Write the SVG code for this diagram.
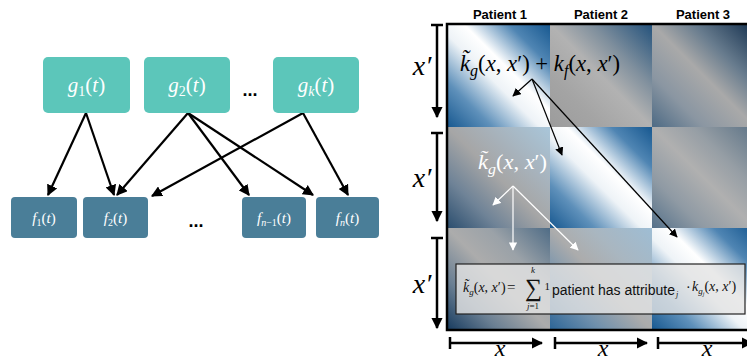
<svg xmlns="http://www.w3.org/2000/svg" width="747" height="360" viewBox="0 0 747 360">
<defs>
<style>
.g{fill:#5cc6ba}
.f{fill:#4a7e98}
.lbl{font-family:"Liberation Serif","DejaVu Serif",serif;fill:#fff}
.it{font-style:italic}
.edge{stroke:#000;stroke-width:2.2;fill:none;marker-end:url(#ah)}
.ann{stroke:#000;stroke-width:1.2;fill:none;marker-end:url(#ahs)}
.annw{stroke:#fff;stroke-width:1.2;fill:none;marker-end:url(#ahw)}
.axis{stroke:#000;stroke-width:2.5;fill:none;marker-end:url(#ahb)}
.tbar{stroke:#000;stroke-width:2.5}
.math{font-family:"Liberation Serif","DejaVu Serif",serif}
.fm{font-family:"Liberation Serif","DejaVu Serif",serif;fill:#111}
.hdr{font-family:"Liberation Sans",Arial,sans-serif;font-weight:bold;font-size:13px;fill:#000;text-anchor:middle}
</style>
<marker id="ah" viewBox="0 0 10 10" refX="9" refY="5" markerWidth="5" markerHeight="5" orient="auto" markerUnits="strokeWidth"><path d="M0,0 L10,5 L0,10 z" fill="#000"/></marker>
<marker id="ahs" viewBox="0 0 10 10" refX="9" refY="5" markerWidth="7" markerHeight="7" orient="auto" markerUnits="strokeWidth"><path d="M0,0 L10,5 L0,10 z" fill="#000"/></marker>
<marker id="ahw" viewBox="0 0 10 10" refX="9" refY="5" markerWidth="7" markerHeight="7" orient="auto" markerUnits="strokeWidth"><path d="M0,0 L10,5 L0,10 z" fill="#fff"/></marker>
<marker id="ahb" viewBox="0 0 10 10" refX="9" refY="5" markerWidth="4.5" markerHeight="4.5" orient="auto" markerUnits="strokeWidth"><path d="M0,0 L10,5 L0,10 z" fill="#000"/></marker>
<linearGradient id="gd" x1="1" y1="0" x2="0" y2="1">
<stop offset="0" stop-color="#175890"/><stop offset="0.2" stop-color="#4f85b3"/><stop offset="0.42" stop-color="#ffffff"/><stop offset="0.55" stop-color="#eef3f7"/><stop offset="0.78" stop-color="#5e90ba"/><stop offset="1" stop-color="#175890"/>
</linearGradient>
<linearGradient id="g12" x1="1" y1="0" x2="0" y2="1">
<stop offset="0" stop-color="#23527c"/><stop offset="0.3" stop-color="#7f8f9d"/><stop offset="0.5" stop-color="#b2b2b2"/><stop offset="0.75" stop-color="#a4a4a4"/><stop offset="1" stop-color="#9c9c9c"/>
</linearGradient>
<linearGradient id="g13" x1="1" y1="0" x2="0" y2="1">
<stop offset="0" stop-color="#14304e"/><stop offset="0.3" stop-color="#687c8e"/><stop offset="0.5" stop-color="#a9a9a9"/><stop offset="0.75" stop-color="#8a96a2"/><stop offset="1" stop-color="#4d6a84"/>
</linearGradient>
<linearGradient id="g21" x1="1" y1="0" x2="0" y2="1">
<stop offset="0" stop-color="#a9c6da"/><stop offset="0.3" stop-color="#a7b2bb"/><stop offset="0.5" stop-color="#a6a6a6"/><stop offset="0.75" stop-color="#6f8397"/><stop offset="1" stop-color="#2a4d6e"/>
</linearGradient>
<linearGradient id="g23" x1="1" y1="0" x2="0" y2="1">
<stop offset="0" stop-color="#5e7487"/><stop offset="0.3" stop-color="#969ea5"/><stop offset="0.5" stop-color="#b0b0b0"/><stop offset="0.75" stop-color="#8f9aa4"/><stop offset="1" stop-color="#55718a"/>
</linearGradient>
<linearGradient id="g31" x1="1" y1="0" x2="0" y2="1">
<stop offset="0" stop-color="#4f6c86"/><stop offset="0.3" stop-color="#9ba2a8"/><stop offset="0.5" stop-color="#acacac"/><stop offset="0.75" stop-color="#6a7f93"/><stop offset="1" stop-color="#163a5e"/>
</linearGradient>
<linearGradient id="g32" x1="1" y1="0" x2="0" y2="1">
<stop offset="0" stop-color="#9ebdd4"/><stop offset="0.3" stop-color="#a9b6c0"/><stop offset="0.5" stop-color="#acacac"/><stop offset="0.75" stop-color="#6f90ad"/><stop offset="1" stop-color="#2c6597"/>
</linearGradient>
</defs>
<rect width="747" height="360" fill="#fff"/>

<g id="connectors">
<line class="edge" x1="86" y1="113" x2="48" y2="195"/>
<line class="edge" x1="86" y1="113" x2="114" y2="195"/>
<line class="edge" x1="188" y1="113" x2="117" y2="195"/>
<line class="edge" x1="188" y1="113" x2="249" y2="195"/>
<line class="edge" x1="188" y1="113" x2="313" y2="195"/>
<line class="edge" x1="303" y1="113" x2="152" y2="196"/>
<line class="edge" x1="303" y1="113" x2="348" y2="195"/>
</g>

<g id="g1"><rect class="g" x="43" y="57" width="87" height="56" rx="5"/>
<text class="lbl" x="86.5" y="92" font-size="21" text-anchor="middle"><tspan class="it">g</tspan><tspan font-size="14" dy="4">1</tspan><tspan dy="-4">(</tspan><tspan class="it">t</tspan>)</text></g>
<g id="g2"><rect class="g" x="144" y="57" width="86" height="56" rx="5"/>
<text class="lbl" x="187" y="92" font-size="21" text-anchor="middle"><tspan class="it">g</tspan><tspan font-size="14" dy="4">2</tspan><tspan dy="-4">(</tspan><tspan class="it">t</tspan>)</text></g>
<g id="gdots"><text x="250" y="96" font-family="Liberation Sans,Arial,sans-serif" font-weight="bold" font-size="18" text-anchor="middle">...</text></g>
<g id="gk"><rect class="g" x="273" y="57" width="86" height="56" rx="5"/>
<text class="lbl" x="316" y="92" font-size="21" text-anchor="middle"><tspan class="it">g</tspan><tspan class="it" font-size="14" dy="4">k</tspan><tspan dy="-4">(</tspan><tspan class="it">t</tspan>)</text></g>

<g id="f1"><rect class="f" x="11" y="197" width="66" height="41" rx="4"/>
<text class="lbl" x="44" y="223" font-size="15" text-anchor="middle"><tspan class="it">f</tspan><tspan font-size="10" dy="3">1</tspan><tspan dy="-3">(</tspan><tspan class="it">t</tspan>)</text></g>
<g id="f2"><rect class="f" x="83" y="197" width="65" height="41" rx="4"/>
<text class="lbl" x="115.5" y="223" font-size="15" text-anchor="middle"><tspan class="it">f</tspan><tspan font-size="10" dy="3">2</tspan><tspan dy="-3">(</tspan><tspan class="it">t</tspan>)</text></g>
<g id="fdots"><text x="196" y="227" font-family="Liberation Sans,Arial,sans-serif" font-weight="bold" font-size="18" text-anchor="middle">...</text></g>
<g id="fn1"><rect class="f" x="242" y="197" width="64" height="41" rx="4"/>
<text class="lbl" x="274" y="223" font-size="15" text-anchor="middle"><tspan class="it">f</tspan><tspan font-size="10" dy="3"><tspan class="it">n</tspan>−1</tspan><tspan dy="-3">(</tspan><tspan class="it">t</tspan>)</text></g>
<g id="fn"><rect class="f" x="316" y="197" width="63" height="41" rx="4"/>
<text class="lbl" x="347.5" y="223" font-size="15" text-anchor="middle"><tspan class="it">f</tspan><tspan class="it" font-size="10" dy="3">n</tspan><tspan dy="-3">(</tspan><tspan class="it">t</tspan>)</text></g>

<g id="matrix">
<rect x="447" y="24" width="103" height="103" fill="url(#gd)"/>
<rect x="550" y="24" width="102" height="103" fill="url(#g12)"/>
<rect x="652" y="24" width="103" height="103" fill="url(#g13)"/>
<rect x="447" y="127" width="103" height="101" fill="url(#g21)"/>
<rect x="550" y="127" width="102" height="101" fill="url(#gd)"/>
<rect x="652" y="127" width="103" height="101" fill="url(#g23)"/>
<rect x="447" y="228" width="103" height="102" fill="url(#g31)"/>
<rect x="550" y="228" width="102" height="102" fill="url(#g32)"/>
<rect x="652" y="228" width="103" height="102" fill="url(#gd)"/>
<rect x="447" y="24" width="310" height="306" fill="none" stroke="#000" stroke-width="2.5"/>
</g>

<g id="headers">
<text class="hdr" x="500" y="19">Patient 1</text>
<text class="hdr" x="601" y="19">Patient 2</text>
<text class="hdr" x="703" y="19">Patient 3</text>
</g>

<g id="axes">
<line class="tbar" x1="431" y1="25" x2="443" y2="25"/>
<line class="axis" x1="437" y1="25" x2="437" y2="117"/>
<line class="tbar" x1="431" y1="133" x2="443" y2="133"/>
<line class="axis" x1="437" y1="133" x2="437" y2="221"/>
<line class="tbar" x1="431" y1="238" x2="443" y2="238"/>
<line class="axis" x1="437" y1="238" x2="437" y2="328"/>
<line class="tbar" x1="450" y1="337" x2="450" y2="349"/>
<line class="axis" x1="450" y1="343" x2="542" y2="343"/>
<line class="tbar" x1="555" y1="337" x2="555" y2="349"/>
<line class="axis" x1="555" y1="343" x2="647" y2="343"/>
<line class="tbar" x1="658" y1="337" x2="658" y2="349"/>
<line class="axis" x1="658" y1="343" x2="752" y2="343"/>
<text class="math it" x="422" y="75" font-size="28" text-anchor="middle">x′</text>
<text class="math it" x="422" y="187" font-size="28" text-anchor="middle">x′</text>
<text class="math it" x="422" y="293" font-size="28" text-anchor="middle">x′</text>
<text class="math it" x="500" y="356" font-size="24" text-anchor="middle">x</text>
<text class="math it" x="603" y="356" font-size="24" text-anchor="middle">x</text>
<text class="math it" x="707" y="356" font-size="24" text-anchor="middle">x</text>
</g>

<g id="ann1">
<text class="math" x="460" y="71" font-size="24" fill="#000" textLength="160" lengthAdjust="spacingAndGlyphs"><tspan class="it">k̃</tspan><tspan class="it" font-size="17" dy="5">g</tspan><tspan dy="-5">(</tspan><tspan class="it">x</tspan>, <tspan class="it">x</tspan>′) + <tspan class="it">k</tspan><tspan class="it" font-size="17" dy="5">f</tspan><tspan dy="-5">(</tspan><tspan class="it">x</tspan>, <tspan class="it">x</tspan>′)</text>
<line class="ann" x1="532" y1="79" x2="513" y2="96"/>
<line class="ann" x1="532" y1="79" x2="562" y2="155"/>
<line class="ann" x1="532" y1="79" x2="677" y2="237"/>
</g>

<g id="ann2">
<text class="math" x="478" y="169" font-size="21" fill="#fff" textLength="69" lengthAdjust="spacingAndGlyphs"><tspan class="it">k̃</tspan><tspan class="it" font-size="15" dy="5">g</tspan><tspan dy="-5">(</tspan><tspan class="it">x</tspan>, <tspan class="it">x</tspan>′)</text>
<line class="annw" x1="513" y1="186" x2="493" y2="205"/>
<line class="annw" x1="513" y1="186" x2="513" y2="250"/>
<line class="annw" x1="513" y1="186" x2="578" y2="250"/>
</g>

<g id="formula">
<rect x="456" y="264" width="289" height="50" fill="#e4e4e4" fill-opacity="0.8" stroke="#222" stroke-width="1.2"/>
<text class="fm" x="463" y="292" font-size="14"><tspan class="it">k̃</tspan><tspan class="it" font-size="9" dy="3">g</tspan><tspan dy="-3">(</tspan><tspan class="it">x</tspan>, <tspan class="it">x</tspan>′)</text>
<text class="fm" x="507" y="292" font-size="15">=</text>
<text class="fm" x="525" y="296" font-size="25" textLength="17" lengthAdjust="spacingAndGlyphs">∑</text>
<text class="fm it" x="533" y="273" font-size="9" text-anchor="middle">k</text>
<text class="fm" x="533" y="309" font-size="9" text-anchor="middle"><tspan class="it">j</tspan>=1</text>
<text class="fm" x="544.5" y="290" font-size="11">1</text>
<text x="552" y="295" font-family="Liberation Sans,Arial,sans-serif" font-size="14" fill="#111">patient has attribute</text>
<text class="fm it" x="676" y="297" font-size="8">j</text>
<text class="fm" x="686" y="292" font-size="14">·</text>
<text class="fm" x="692" y="291" font-size="14"><tspan class="it">k</tspan><tspan class="it" font-size="9" dy="3">g</tspan><tspan class="it" font-size="6" dy="2">j</tspan><tspan dy="-5">(</tspan><tspan class="it">x</tspan>, <tspan class="it">x</tspan>′)</text>
</g>
</svg>
